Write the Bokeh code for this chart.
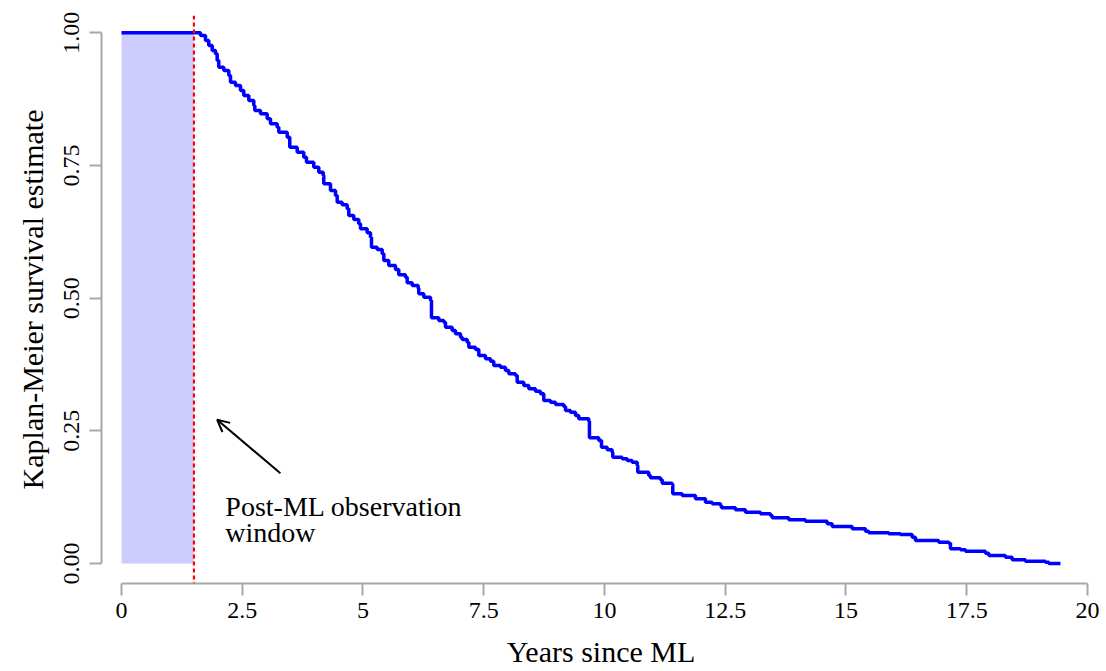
from bokeh.plotting import figure
from bokeh.models import ColumnDataSource, FixedTicker, Span, Arrow, OpenHead
from bokeh.core.properties import value
from bokeh.embed import file_html
from bokeh.resources import INLINE

FONT = "Liberation Serif"

# Kaplan-Meier curve: time of each step (years) and survival after it
km_time = [0, 1.636, 1.739, 1.807, 1.878, 1.946, 1.981, 2.014, 2.118, 2.222, 2.257, 2.360,
           2.464, 2.532, 2.636, 2.739, 2.760, 2.878, 3.017, 3.085, 3.224, 3.257, 3.431,
           3.484, 3.638, 3.774, 3.830, 3.981, 4.085, 4.176, 4.188, 4.327, 4.431, 4.466,
           4.569, 4.673, 4.706, 4.810, 4.913, 4.948, 5.087, 5.155, 5.176, 5.294, 5.398,
           5.431, 5.534, 5.673, 5.741, 5.880, 5.915, 6.019, 6.143, 6.155, 6.259, 6.398,
           6.418, 6.569, 6.673, 6.708, 6.847, 6.915, 7.019, 7.054, 7.157, 7.191, 7.329,
           7.398, 7.536, 7.640, 7.708, 7.847, 7.950, 8.019, 8.157, 8.193, 8.329, 8.433,
           8.571, 8.675, 8.743, 8.882, 8.986, 9.157, 9.193, 9.296, 9.400, 9.468, 9.675,
           9.689, 9.882, 9.938, 10.056, 10.159, 10.172, 10.366, 10.470, 10.573, 10.677,
           10.689, 10.917, 10.952, 11.159, 11.195, 11.402, 11.414, 11.609, 11.884,
           12.091, 12.230, 12.402, 12.422, 12.712, 12.919, 13.230, 13.437, 13.472,
           13.816, 14.161, 14.611, 14.714, 15.128, 15.404, 15.472, 15.886, 16.128,
           16.371, 16.439, 16.921, 17.128, 17.164, 17.371, 17.474, 17.888, 17.957,
           18.302, 18.441, 18.716, 19.130, 19.199, 19.441]
km_surv = [1.0, 0.995, 0.9855, 0.976, 0.9666, 0.9604, 0.9478, 0.9352, 0.929, 0.9195,
           0.9069, 0.9007, 0.8913, 0.8819, 0.8724, 0.863, 0.8536, 0.8474, 0.838, 0.8285,
           0.8221, 0.8127, 0.8033, 0.7844, 0.775, 0.7656, 0.7562, 0.7468, 0.7373, 0.7311,
           0.7155, 0.7029, 0.6934, 0.6808, 0.6759, 0.6684, 0.6557, 0.6482, 0.6401,
           0.6307, 0.6231, 0.6149, 0.596, 0.5917, 0.5836, 0.5709, 0.5615, 0.554, 0.544,
           0.5395, 0.5289, 0.5238, 0.5188, 0.5082, 0.5018, 0.4956, 0.463, 0.4579,
           0.4547, 0.4453, 0.439, 0.4328, 0.4264, 0.4221, 0.417, 0.4076, 0.4032, 0.3919,
           0.3857, 0.3812, 0.3731, 0.3699, 0.3637, 0.3575, 0.3543, 0.3416, 0.3354,
           0.3292, 0.3247, 0.3198, 0.3071, 0.3039, 0.2996, 0.2958, 0.2883, 0.2851,
           0.2789, 0.2727, 0.2681, 0.2369, 0.2318, 0.2191, 0.2142, 0.2097, 0.2003,
           0.1973, 0.1941, 0.1909, 0.1847, 0.172, 0.1658, 0.1615, 0.1577, 0.1513,
           0.1489, 0.1313, 0.1281, 0.1219, 0.1155, 0.1125, 0.1093, 0.105, 0.1012,
           0.0967, 0.0937, 0.0904, 0.0861, 0.0823, 0.0797, 0.0748, 0.0697, 0.0654,
           0.0609, 0.0578, 0.056, 0.0546, 0.0496, 0.0433, 0.0401, 0.0383, 0.0277,
           0.0258, 0.0232, 0.0194, 0.0151, 0.0119, 0.007, 0.0043, 0.0024, 0.0, 0.0]

window_start = [0]
window_end = [1.5]
window_low = [0]
window_high = [1]
landmark = 1.5

x_ticks = [0, 2.5, 5, 7.5, 10, 12.5, 15, 17.5, 20]
x_tick_labels = ["0", "2.5", "5", "7.5", "10", "12.5", "15", "17.5", "20"]
y_ticks = [0, 0.25, 0.5, 0.75, 1]
y_tick_labels = ["0.00", "0.25", "0.50", "0.75", "1.00"]

note_lines = ["Post-ML observation", "window"]
note_x = [2.15, 2.15]
note_y = [0.107, 0.058]
arrow_from = (3.29, 0.170)
arrow_to = (1.98, 0.271)

p = figure(width=1106, height=671, x_range=(-0.414, 20.27), y_range=(-0.0377, 1.0326),
           output_backend="svg", toolbar_location=None,
           min_border_left=101, min_border_right=6, min_border_top=15, min_border_bottom=88)
p.outline_line_color = None
p.grid.visible = False

# shaded landmark window
p.quad(left=window_start, right=window_end, bottom=window_low, top=window_high,
       fill_color="#ccccff", line_color=None)

src = ColumnDataSource(data=dict(t=km_time, s=km_surv))
p.step("t", "s", source=src, mode="after", line_color="blue", line_width=3.5)

p.add_layout(Span(location=landmark, dimension="height", line_color="red",
                  line_dash="4 3", line_width=2.2))

p.add_layout(Arrow(end=OpenHead(size=12, line_width=2, line_color="black"),
                   x_start=arrow_from[0], y_start=arrow_from[1],
                   x_end=arrow_to[0], y_end=arrow_to[1],
                   line_width=2, line_color="black"))

p.text(x=note_x, y=note_y, text=note_lines, text_font=value(FONT), text_font_size="28px",
       text_align="left", text_baseline="alphabetic", text_color="black")

# axes, R style: detached from the plotting region
for ax in (p.xaxis, p.yaxis):
    ax.axis_line_color = "#a8a8a8"
    ax.axis_line_width = 2
    ax.major_tick_line_color = "#a8a8a8"
    ax.major_tick_line_width = 2
    ax.major_tick_out = 12
    ax.major_tick_in = 0
    ax.minor_tick_line_color = None
    ax.major_label_text_font = FONT
    ax.major_label_text_font_size = "24px"
    ax.major_label_text_color = "black"
    ax.axis_label_text_font = FONT
    ax.axis_label_text_font_size = "30px"
    ax.axis_label_text_font_style = "normal"
    ax.axis_label_text_color = "black"

p.xaxis.ticker = FixedTicker(ticks=x_ticks)
p.xaxis.major_label_overrides = dict(zip(x_ticks, x_tick_labels))
p.xaxis.bounds = (0, 20)
p.xaxis.major_label_standoff = 7
p.xaxis.axis_label = "Years since ML"
p.xaxis.axis_label_standoff = 14

p.yaxis.ticker = FixedTicker(ticks=y_ticks)
p.yaxis.major_label_overrides = dict(zip(y_ticks, y_tick_labels))
p.yaxis.bounds = (0, 1)
p.yaxis.major_label_orientation = "vertical"
p.yaxis.major_label_standoff = 10
p.yaxis.axis_label = "Kaplan-Meier survival estimate"
p.yaxis.axis_label_standoff = 13

open("out.html", "w").write(file_html(p, INLINE))
